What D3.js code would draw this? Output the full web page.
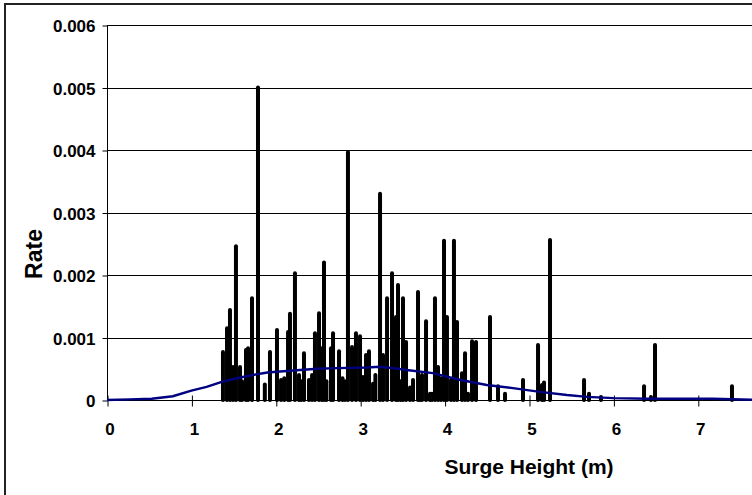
<!DOCTYPE html>
<html>
<head>
<meta charset="utf-8">
<script src="https://cdn.jsdelivr.net/npm/d3@7"></script>
<style>
  body { margin: 0; background: #fff; }
  svg { display: block; font-family: "Liberation Sans", Arial, sans-serif; }
</style>
</head>
<body>
<svg id="chart" width="752" height="495"></svg>
<script>
// surge heights (m) of each event and their rates
var heights = [1.374, 1.422, 1.457, 1.493, 1.528, 1.576, 1.647, 1.671, 1.718, 1.789,
  1.931, 2.014, 2.062, 2.145, 2.168, 2.227, 2.275, 2.334, 2.393, 2.464,
  2.512, 2.547, 2.571, 2.654, 2.678, 2.749, 2.820, 2.855, 2.903, 2.950,
  2.998, 3.033, 3.069, 3.104, 3.152, 3.235, 3.270, 3.318, 3.377, 3.424,
  3.448, 3.507, 3.543, 3.590, 3.626, 3.685, 3.732, 3.780, 3.827, 3.851,
  3.886, 3.922, 3.957, 3.993, 4.028, 4.076, 4.111, 4.147, 4.206, 4.242,
  4.277, 4.325, 4.372, 4.538, 4.633, 4.716, 4.929, 5.107, 5.154, 5.178,
  5.249, 5.652, 5.711, 5.853, 6.363, 6.445, 6.493, 7.405,
  1.600, 1.870, 2.100, 2.300, 2.430, 2.600, 2.790, 3.180, 3.480, 3.710];
var rates = [0.00077, 0.00115, 0.00144, 0.00053, 0.00246, 0.00053, 0.00080, 0.00083, 0.00163, 0.00500,
  0.00077, 0.00112, 0.00032, 0.00109, 0.00138, 0.00203, 0.00040, 0.00075, 0.00032, 0.00107,
  0.00139, 0.00083, 0.00220, 0.00083, 0.00107, 0.00078, 0.00030, 0.00397, 0.00085, 0.00107,
  0.00102, 0.00037, 0.00072, 0.00078, 0.00026, 0.00330, 0.00072, 0.00163, 0.00203, 0.00133,
  0.00184, 0.00163, 0.00093, 0.00020, 0.00032, 0.00173, 0.00040, 0.00126, 0.00010, 0.00010,
  0.00163, 0.00053, 0.00035, 0.00255, 0.00133, 0.00032, 0.00255, 0.00125, 0.00043, 0.00075,
  0.00010, 0.00094, 0.00093, 0.00133, 0.00022, 0.00010, 0.00032, 0.00088, 0.00024, 0.00028,
  0.00256, 0.00032, 0.00010, 0.00005, 0.00022, 0.00005, 0.00088, 0.00022,
  0.00030, 0.00025, 0.00035, 0.00030, 0.00040, 0.00030, 0.00035, 0.00040, 0.00030, 0.00035];

// fitted distribution curve
var curveX = [0, 0.27, 0.53, 0.78, 1.0, 1.18, 1.36, 1.58, 1.73, 1.90, 2.09, 2.29, 2.49, 2.73,
  3.08, 3.23, 3.39, 3.55, 3.86, 4.19, 4.50, 4.81, 5.13, 5.45, 5.69, 6.0, 6.4, 7.18, 7.7];
var curveY = [0, 0.00001, 0.00002, 0.00006, 0.00015, 0.00021, 0.00029, 0.00036, 0.0004, 0.00044,
  0.00046, 0.00048, 0.0005, 0.00051, 0.00052, 0.00053, 0.00051, 0.00048, 0.00043, 0.00032,
  0.00024, 0.00019, 0.00013, 0.00008, 0.00005, 0.00003, 0.00002, 0.00002, 0];

var xTicks = [0, 1, 2, 3, 4, 5, 6, 7];
var yTicks = [0, 0.001, 0.002, 0.003, 0.004, 0.005, 0.006];

var svg = d3.select('#chart');

var x = d3.scaleLinear().domain([0, 10]).range([107, 951]);
var y = d3.scaleLinear().domain([0, 0.006]).range([400, 25]);

// outer chart border
svg.append('rect')
  .attr('x', 5).attr('y', 4)
  .attr('width', 1000).attr('height', 1000)
  .style('fill', '#fff')
  .style('stroke', '#222')
  .style('stroke-width', 2);

// gridlines
svg.append('g')
  .selectAll('line')
  .data(yTicks.slice(1))
  .enter()
  .append('line')
  .attr('x1', 107).attr('x2', 951)
  .attr('y1', function(d) { return Math.round(y(d)) + 0.5; })
  .attr('y2', function(d) { return Math.round(y(d)) + 0.5; })
  .style('stroke', '#000')
  .style('stroke-width', 1);

// bars
svg.append('g')
  .selectAll('line')
  .data(heights)
  .enter()
  .append('line')
  .attr('x1', function(d) { return x(d); })
  .attr('x2', function(d) { return x(d); })
  .attr('y1', y(0))
  .attr('y2', function(d, i) { return y(rates[i]); })
  .style('stroke', '#000')
  .style('stroke-width', 4)
  .style('stroke-linecap', 'round');

// y axis
var yAxis = d3.axisLeft(y)
  .tickValues(yTicks)
  .tickFormat(function(d) { return d === 0 ? '0' : d3.format('.3f')(d); })
  .tickSize(5)
  .tickPadding(7);
var gy = svg.append('g')
  .attr('transform', 'translate(107.5,0.5)')
  .call(yAxis);
gy.select('.domain').attr('d', 'M0,' + y(0.006) + 'V' + y(0));
gy.selectAll('text')
  .style('font-size', '17px')
  .style('font-weight', 'bold')
  .style('fill', '#000')
  .attr('dy', '0.36em');

// x axis
var xAxis = d3.axisBottom(x)
  .tickValues(xTicks)
  .tickFormat(d3.format('d'))
  .tickSizeInner(6)
  .tickSizeOuter(0)
  .tickPadding(16);
var gx = svg.append('g')
  .attr('transform', 'translate(0.5,' + (y(0) + 0.5) + ')')
  .call(xAxis);
gx.select('.domain').attr('d', 'M107,0H752');
gx.selectAll('.tick line').attr('y1', -5);
gx.selectAll('text')
  .style('font-size', '17px')
  .style('font-weight', 'bold')
  .style('fill', '#000')
  .attr('dx', 2);

// fitted curve on top
var line = d3.line()
  .x(function(d, i) { return x(d); })
  .y(function(d, i) { return y(curveY[i]); });
svg.append('path')
  .datum(curveX)
  .attr('d', line)
  .style('fill', 'none')
  .style('stroke', '#000080')
  .style('stroke-width', 2.5);

// axis titles
svg.append('text')
  .attr('x', 529).attr('y', 474)
  .attr('text-anchor', 'middle')
  .style('font-size', '21px')
  .style('font-weight', 'bold')
  .text('Surge Height (m)');

svg.append('text')
  .attr('transform', 'translate(42,254) rotate(-90)')
  .attr('text-anchor', 'middle')
  .style('font-size', '23px')
  .style('font-weight', 'bold')
  .text('Rate');
</script>
</body>
</html>
